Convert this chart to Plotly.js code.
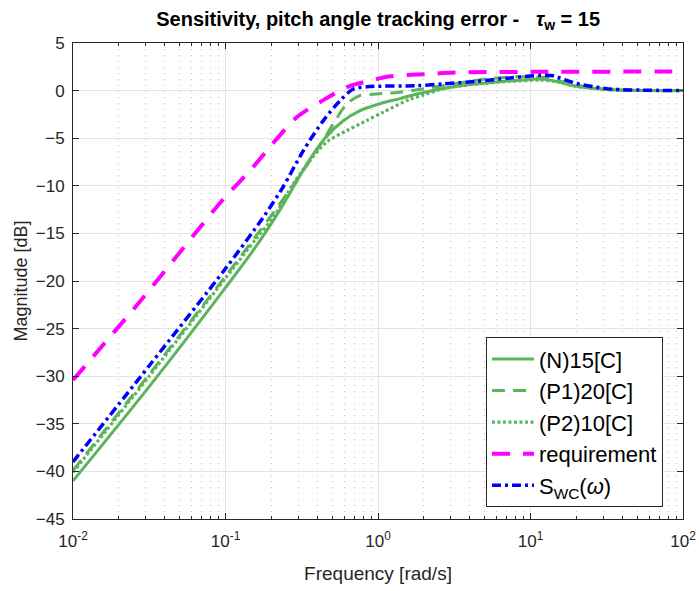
<!DOCTYPE html>
<html>
<head>
<meta charset="utf-8">
<script src="https://cdn.plot.ly/plotly-3.0.1.min.js"></script>
<style>body{margin:0;padding:0;background:#fff}#chart{width:699px;height:591px}</style>
</head>
<body>
<div id="chart"></div>
<script>
// Frequencies [rad/s] and magnitudes [dB]
var wN   = [0.01, 0.0316, 0.1, 0.158, 0.228, 0.282, 0.348, 0.449, 0.589, 0.762, 1.03, 1.39, 1.80, 3.45, 5.70, 9.44, 11.5, 13.4, 15.6, 19.1, 22.2, 31.6, 50.1, 100];
var magN = [-41.0, -31.1, -20.7, -16.4, -12.5, -10.0, -7.5, -5.0, -3.2, -2.1, -1.38, -0.84, -0.35, 0.5, 0.87, 1.15, 1.22, 1.1, 0.87, 0.52, 0.35, 0.12, 0.02, 0.0];

var wP1   = [0.01, 0.0316, 0.1, 0.158, 0.196, 0.293, 0.396, 0.509, 0.624, 0.759, 0.929, 1.39, 2.31, 4.01, 5.70, 8.13, 11.5, 14.1, 15.8, 20.0, 25.1, 31.6, 50.1, 100];
var magP1 = [-39.9, -29.8, -19.5, -15.3, -13.3, -9.4, -6.3, -3.5, -1.4, -0.52, -0.38, -0.17, 0.35, 0.98, 1.3, 1.45, 1.42, 1.25, 1.0, 0.6, 0.3, 0.12, 0.02, 0.0];

var wP2   = [0.01, 0.0316, 0.1, 0.158, 0.206, 0.278, 0.358, 0.461, 0.624, 0.843, 1.08, 1.62, 2.0, 2.68, 4.44, 7.35, 11.5, 14.1, 15.8, 19.1, 22.4, 31.6, 50.1, 100];
var magP2 = [-40.1, -30.0, -19.7, -15.6, -13.3, -9.8, -7.35, -5.4, -4.2, -3.15, -2.27, -0.9, -0.45, 0.2, 0.7, 0.98, 1.1, 1.0, 0.85, 0.5, 0.33, 0.12, 0.02, 0.0];

var wReq   = [0.01, 0.028, 0.0968, 0.145, 0.196, 0.293, 0.438, 0.624, 0.724, 0.802, 1.2, 1.79, 3.2, 10, 100];
var magReq = [-30.4, -22.0, -11.4, -8.4, -5.9, -2.8, -1.0, 0.35, 0.7, 0.87, 1.5, 1.68, 1.89, 1.97, 2.0];

var wWC   = [0.01, 0.0316, 0.1, 0.177, 0.239, 0.324, 0.438, 0.564, 0.689, 0.885, 1.79, 2.68, 4.44, 7.35, 11.5, 14.1, 15.6, 20.0, 25.7, 34.9, 52.2, 100];
var magWC = [-39.0, -28.9, -18.7, -13.3, -10.1, -6.3, -3.15, -1.05, 0.17, 0.42, 0.52, 0.7, 0.98, 1.33, 1.6, 1.55, 1.33, 0.75, 0.42, 0.14, 0.05, 0.0];

var xTickVals = [0.01, 0.1, 1, 10, 100];
var xTickText = ['10<sup>-2</sup>', '10<sup>-1</sup>', '10<sup>0</sup>', '10<sup>1</sup>', '10<sup>2</sup>'];

var green = '#5CB45C';
var font = 'Liberation Sans, Arial, sans-serif';
var sm = 0.8;

var traces = [
  {x: wN, y: magN, name: '(N)15[C]', legendgroup: 'a', mode: 'lines',
   line: {color: green, width: 3, shape: 'spline', smoothing: sm}},
  {x: wP1, y: magP1, name: '(P1)20[C]', legendgroup: 'b', mode: 'lines',
   line: {color: green, width: 3, dash: '13px,8px', shape: 'spline', smoothing: sm}},
  {x: wP2, y: magP2, name: '(P2)10[C]', legendgroup: 'c', mode: 'lines',
   line: {color: green, width: 3.2, dash: '3px,2.5px', shape: 'spline', smoothing: sm}},
  {x: wReq, y: magReq, name: 'requirement', legendgroup: 'd', mode: 'lines',
   line: {color: '#FF00FF', width: 4, dash: '18px,13px', shape: 'spline', smoothing: sm}},
  {x: wWC, y: magWC, name: 'S<sub>WC</sub>(<i>ω</i>)', legendgroup: 'e', mode: 'lines',
   line: {color: '#0000FF', width: 3.5, dash: '9px,4px,3px,4px', shape: 'spline', smoothing: sm}}
];

var layout = {
  width: 699, height: 591,
  margin: {l: 73, r: 16, t: 43, b: 72},
  paper_bgcolor: '#fff', plot_bgcolor: '#fff',
  font: {family: font, color: '#262626', size: 16},
  title: {text: '<b>Sensitivity, pitch angle tracking error -   <i>τ</i><sub>w</sub> = 15</b>',
          x: 0.541, xanchor: 'center', y: 0.968, yanchor: 'middle',
          font: {family: font, size: 20, color: '#000'}},
  xaxis: {type: 'log', range: [-2, 2], tickvals: xTickVals, ticktext: xTickText,
          showline: true, linecolor: '#262626', linewidth: 1, mirror: 'ticks',
          ticks: 'inside', ticklen: 6, tickcolor: '#262626', ticklabelstandoff: 7,
          showgrid: true, gridcolor: '#E4E4E4', gridwidth: 1, zeroline: false,
          tickfont: {size: 17, color: '#262626'},
          minor: {dtick: 'D1', showgrid: true, gridcolor: '#C4C4C4', griddash: '1px,5px',
                  ticks: 'inside', ticklen: 3, tickcolor: '#262626'},
          title: {text: 'Frequency [rad/s]', font: {size: 19, color: '#262626'}, standoff: 16}},
  yaxis: {range: [-45, 5], dtick: 5, tick0: 0,
          showline: true, linecolor: '#262626', linewidth: 1, mirror: 'ticks',
          ticks: 'inside', ticklen: 6, tickcolor: '#262626', ticklabelstandoff: 4,
          showgrid: true, gridcolor: '#E4E4E4', gridwidth: 1, zeroline: false,
          tickfont: {size: 17, color: '#262626'},
          title: {text: 'Magnitude [dB]', font: {size: 18, color: '#262626'}, standoff: 3}},
  showlegend: true,
  legend: {x: 0.677, y: 0.382, xanchor: 'left', yanchor: 'top',
           bgcolor: '#fff', bordercolor: '#262626', borderwidth: 1, itemwidth: 42,
           font: {size: 22, color: '#000'}, traceorder: 'grouped', tracegroupgap: 0}
};

Plotly.newPlot('chart', traces, layout, {displayModeBar: false, staticPlot: true});
</script>
</body>
</html>
